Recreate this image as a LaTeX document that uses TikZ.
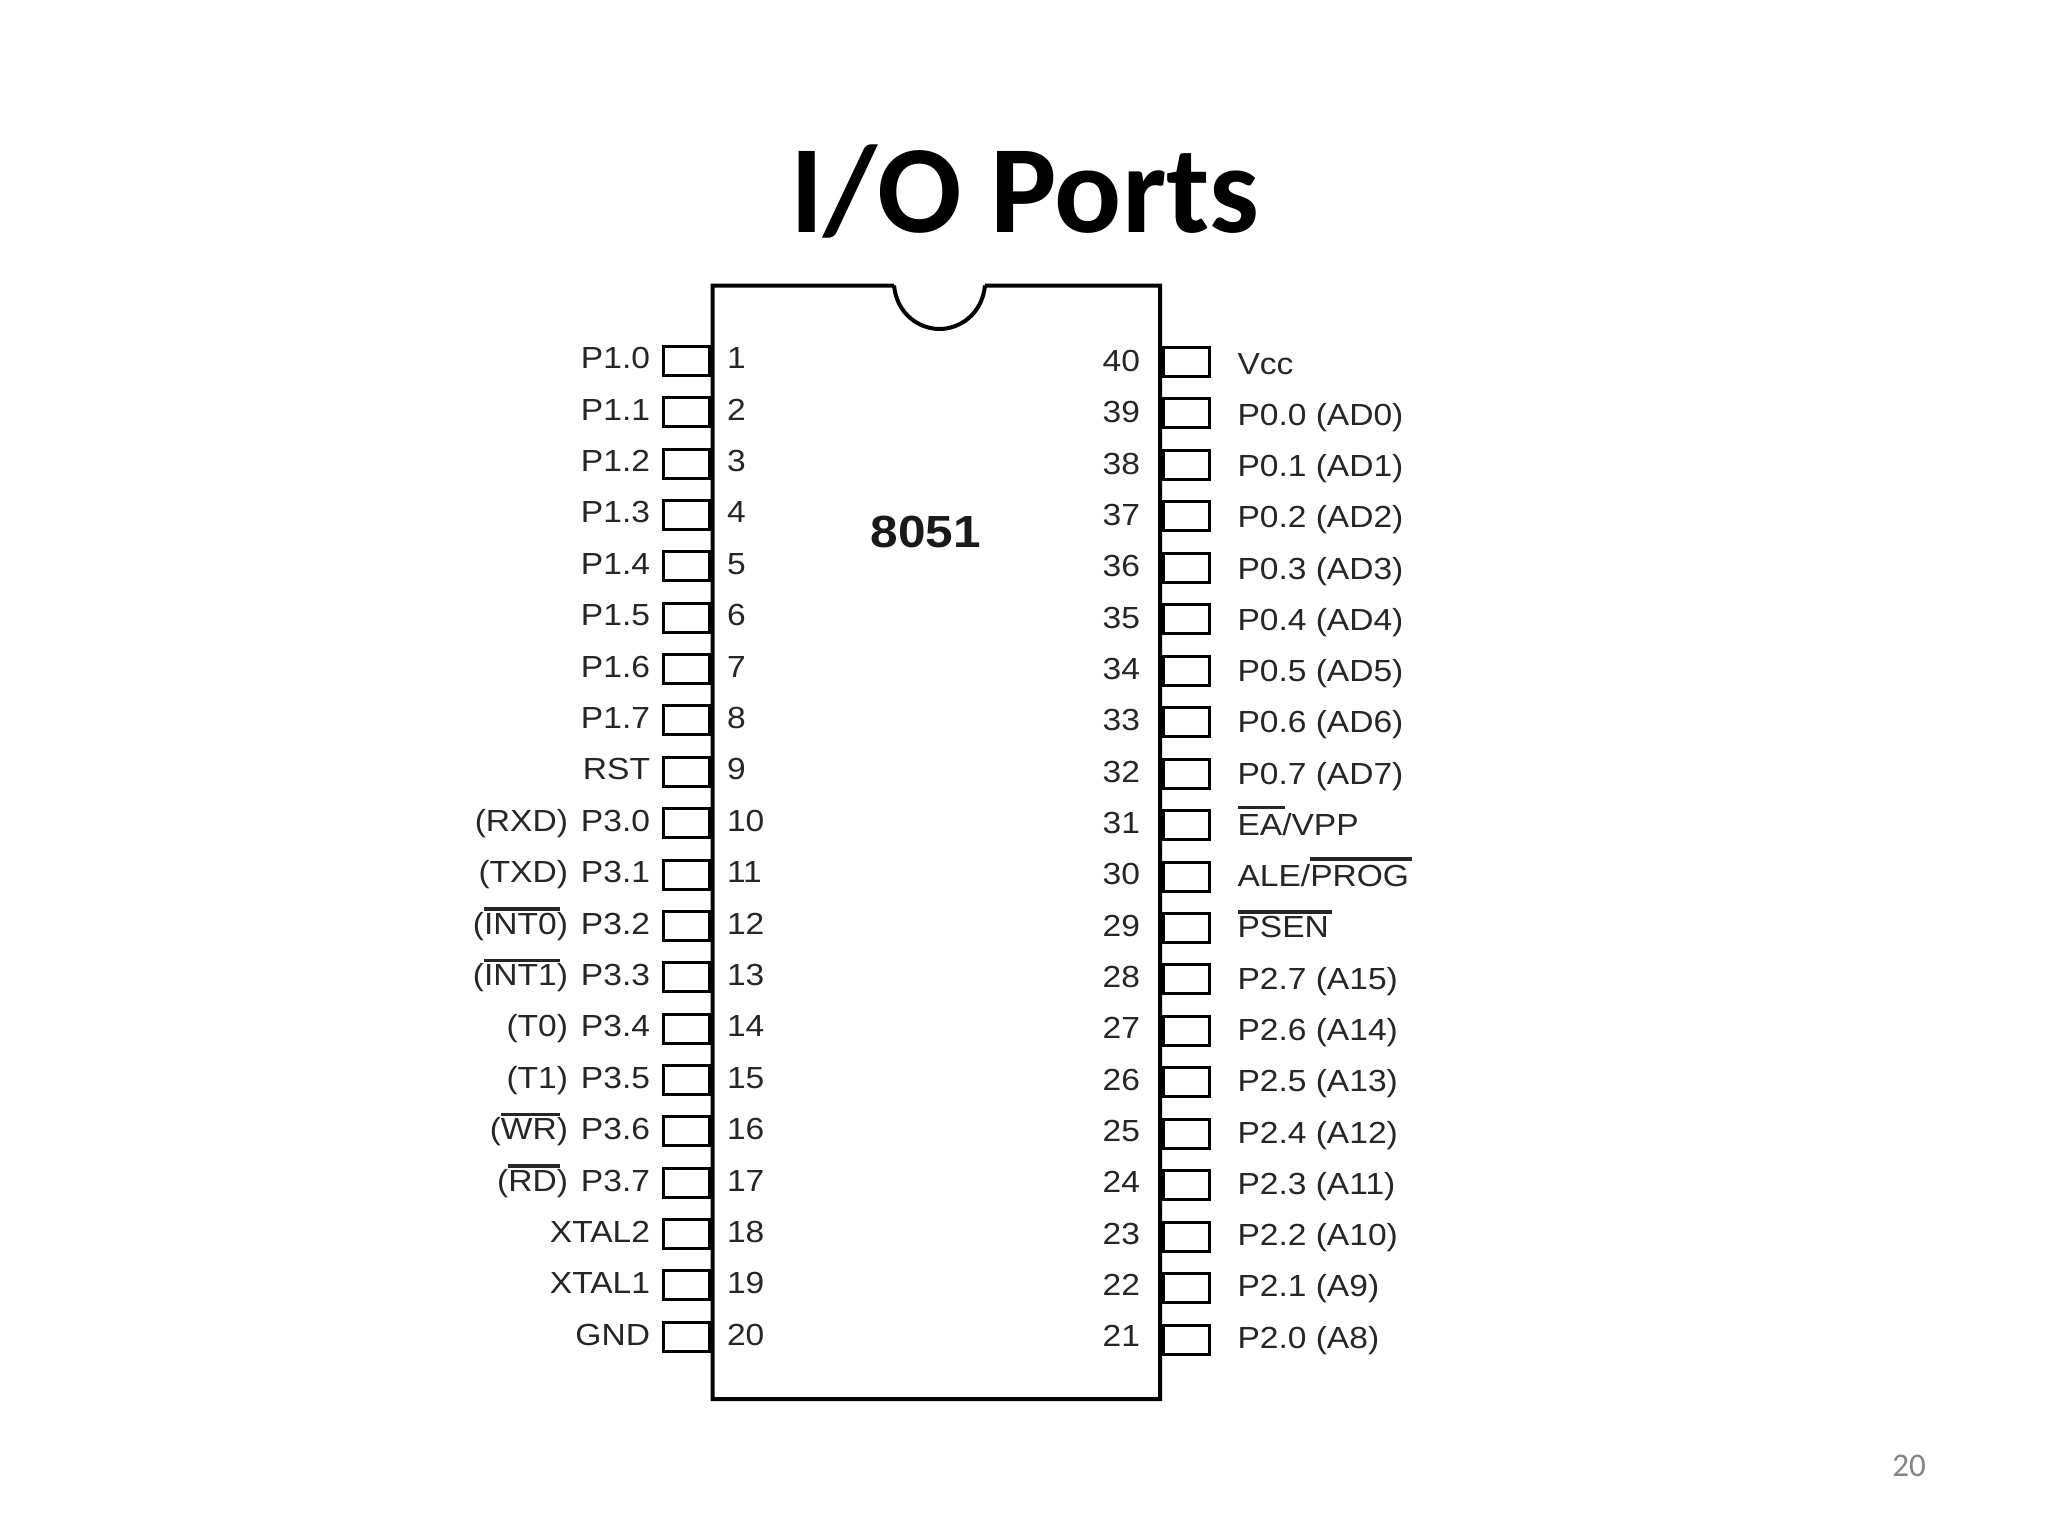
\documentclass[tikz,border=0pt]{standalone}
\usepackage{fontspec}
\setmainfont[FakeStretch=1.10]{Liberation Sans}
\newfontfamily\titlefont{Carlito}
\newcommand{\ovlbar}[2]{\leavevmode\setbox0=\hbox{#2}\rlap{\rule[#1]{\dimexpr\wd0+3pt\relax}{3.5pt}}\box0}
\colorlet{inkc}{black!85}
\tikzset{
  x=1pt,y=-1pt,
  pinbox/.style={draw=black,line width=3pt,minimum width=46pt,minimum height=29pt,inner sep=0pt,outer sep=0pt,anchor=center},
  lab/.style={inner sep=0pt,outer sep=0pt,text=inkc,font=\fontsize{30.5}{36}\selectfont},
  labL/.style={lab,anchor=base east},
  labR/.style={lab,anchor=base west},
  chipline/.style={draw=black,line width=4pt,line join=miter}
}
\begin{document}
\begin{tikzpicture}
\useasboundingbox (0,0) rectangle (2048,1536);
\fill[white] (0,0) rectangle (2048,1536);
\node[anchor=base,inner sep=0pt,font=\titlefont\bfseries\fontsize{125}{130}\selectfont] (title) at (1025,232) {I/O Ports};
\draw[chipline] (894,285.5) -- (712.5,285.5) -- (712.5,1399) -- (1160,1399) -- (1160,285.5) -- (985,285.5)
  (894,285.5) .. controls (897,315) and (920,329) .. (939.5,329) .. controls (959,329) and (982,315) .. (985,285.5);
\node[inner sep=0pt,anchor=base,text=black!90,font=\bfseries\fontsize{45}{50}\selectfont] (chipname) at (926,547) {8051};
% left pins
\foreach \n/\t in {1/P1.0,2/P1.1,3/P1.2,4/P1.3,5/P1.4,6/P1.5,7/P1.6,8/P1.7,9/RST,10/P3.0,11/P3.1,12/P3.2,13/P3.3,14/P3.4,15/P3.5,16/P3.6,17/P3.7,18/XTAL2,19/XTAL1,20/GND}{
  \pgfmathsetmacro{\yp}{361+(\n-1)*51.35}
  \pgfmathsetmacro{\yb}{368.7+(\n-1)*51.40}
  \node[pinbox] (pl\n) at (686,\yp) {};
  \node[labL] (tl\n) at (650,\yb) {\t};
  \node[labR] (nl\n) at (727,\yb) {\n};
}
% alternate functions
\foreach \n/\t in {10/(RXD),11/(TXD),12/{(\ovlbar{23.5pt}{INT0})},13/{(\ovlbar{23.5pt}{INT1})},14/(T0),15/(T1),16/{(\ovlbar{23.5pt}{WR})},17/{(\ovlbar{23.5pt}{RD})}}{
  \pgfmathsetmacro{\yb}{368.7+(\n-1)*51.40}
  \node[labL] (al\n) at (568,\yb) {\t};
}
% right pins
\foreach \n/\t in {40/Vcc,39/P0.0 (AD0),38/P0.1 (AD1),37/P0.2 (AD2),36/P0.3 (AD3),35/P0.4 (AD4),34/P0.5 (AD5),33/P0.6 (AD6),32/P0.7 (AD7),31/{\ovlbar{26pt}{EA}/VPP},30/{ALE/\ovlbar{26pt}{PROG}},29/{\ovlbar{24pt}{PSEN}},28/P2.7 (A15),27/P2.6 (A14),26/P2.5 (A13),25/P2.4 (A12),24/P2.3 (A11),23/P2.2 (A10),22/P2.1 (A9),21/P2.0 (A8)}{
  \pgfmathsetmacro{\yp}{362+(40-\n)*51.45}
  \pgfmathsetmacro{\yb}{374+(40-\n)*51.27}
  \pgfmathsetmacro{\yc}{371.5+(40-\n)*51.33}
  \node[pinbox] (pr\n) at (1186.7,\yp) {};
  \node[labR] (tr\n) at (1237.5,\yb) {\t};
  \node[labL] (nr\n) at (1140,\yc) {\n};
}
\node[anchor=base east,inner sep=0pt,text=black!48,font=\titlefont\fontsize{33}{36}\selectfont] (pageno) at (1926,1476.5) {20};
\end{tikzpicture}
\end{document}
